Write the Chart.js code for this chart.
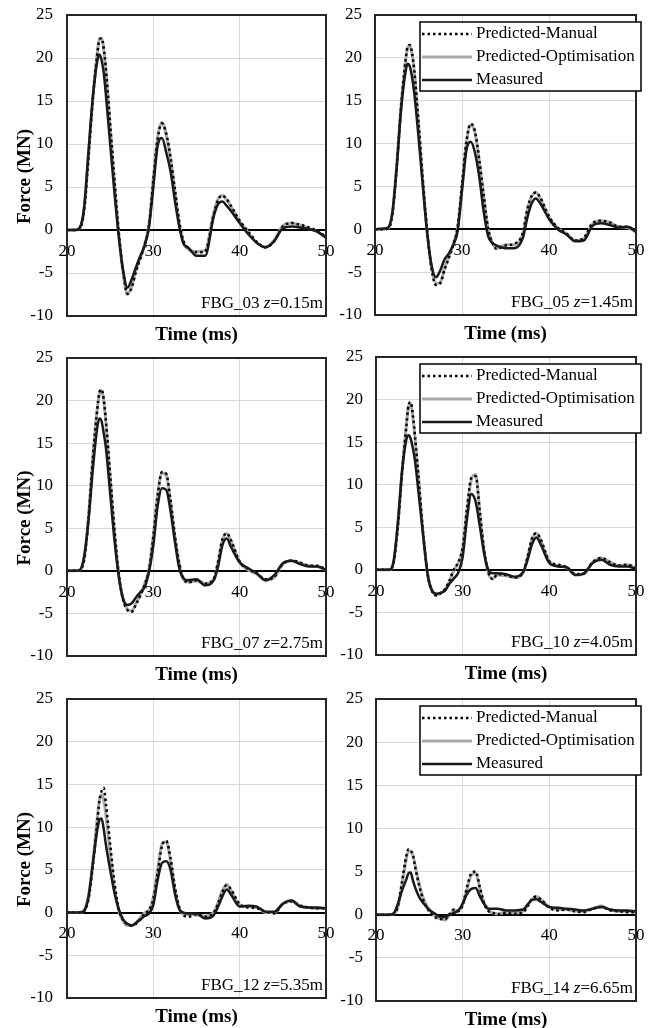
<!DOCTYPE html>
<html>
<head>
<meta charset="utf-8">
<style>
  html, body { margin: 0; padding: 0; background: #fff; }
  body { width: 649px; height: 1028px; position: relative; overflow: hidden; }
  canvas { position: absolute; }
</style>
</head>
<body>
<canvas id="fbg03" width="336" height="345" style="left:0;top:0"></canvas>
<canvas id="fbg05" width="329" height="345" style="left:320px;top:0"></canvas>
<canvas id="fbg07" width="336" height="345" style="left:0;top:340px"></canvas>
<canvas id="fbg10" width="329" height="345" style="left:320px;top:340px"></canvas>
<canvas id="fbg12" width="336" height="348" style="left:0;top:680px"></canvas>
<canvas id="fbg14" width="329" height="348" style="left:320px;top:680px"></canvas>

<script src="https://cdn.jsdelivr.net/npm/chart.js"></script>
<script>
  // time axis (ms), shared by every panel
  const times = [20, 21, 21.5, 22, 22.5, 23, 23.5, 23.75, 24, 24.25, 24.5, 25, 25.5, 26, 26.5, 27, 27.5, 28, 28.5, 29, 29.5, 30, 30.5, 31, 31.5, 32, 32.5, 33, 33.5, 34, 35, 36, 37, 37.5, 38, 38.5, 39, 40, 41, 42, 43, 44, 45, 46, 47, 48, 49, 50];
  const xTicks = [20, 30, 40, 50];
  const yTicks = [-10, -5, 0, 5, 10, 15, 20, 25];

  // force (MN)
  const fbg03Manual   = [0, 0, 0.2, 2.4, 8.6, 15.3, 20.4, 22.1, 22.3, 21.2, 18.8, 12.3, 5.8, -0.3, -4.8, -7.4, -6.7, -4.8, -3.3, -1.7, 0.5, 5.8, 10.6, 12.4, 11.2, 8.4, 4.7, 1.0, -1.3, -2.1, -2.6, -2.5, 1.8, 3.5, 4.0, 3.6, 2.8, 1.1, -0.2, -1.4, -2.0, -1.3, 0.4, 0.8, 0.6, 0.3, -0.1, -0.8];
  const fbg03Optim    = [0, 0, 0.2, 2.5, 8.8, 15.5, 20.5, 22.2, 22.3, 21.0, 18.6, 12.0, 5.5, -0.5, -5.0, -7.5, -6.5, -4.6, -3.2, -1.6, 0.6, 6.0, 10.8, 12.5, 11.0, 8.2, 4.5, 0.8, -1.5, -2.2, -2.5, -2.4, 2.0, 3.6, 4.0, 3.5, 2.7, 1.0, -0.3, -1.5, -2.0, -1.2, 0.5, 0.8, 0.6, 0.2, -0.2, -0.9];
  const fbg03Measured = [0, 0, 0.3, 2.8, 9.3, 15.5, 19.6, 20.4, 19.8, 18.3, 15.8, 10.0, 4.3, -0.8, -4.7, -6.7, -5.7, -4.3, -3.0, -1.8, 0.4, 5.0, 9.8, 10.7, 9.0, 6.8, 3.4, 0.4, -1.6, -2.0, -3.0, -3.0, 1.6, 3.0, 3.3, 2.8, 2.2, 0.8, -0.5, -1.5, -2.0, -1.3, 0.2, 0.4, 0.3, 0.1, -0.2, -0.9];

  const fbg05Manual   = [0, 0, 0.1, 1.7, 7.3, 14.3, 19.6, 21.3, 21.5, 20.6, 18.7, 12.5, 5.7, -0.2, -4.6, -6.5, -6.3, -4.7, -3.3, -1.8, 0.3, 5.2, 10.2, 12.3, 11.4, 8.0, 3.9, 0.1, -1.6, -2.3, -1.9, -1.7, -0.4, 2.3, 3.9, 4.3, 3.7, 1.5, 0.2, -0.5, -1.3, -1.0, 0.7, 1.0, 0.8, 0.3, 0.3, -0.2];
  const fbg05Optim    = [0, 0, 0.1, 1.8, 7.5, 14.5, 19.5, 21.2, 21.4, 20.5, 18.5, 12.3, 5.5, -0.3, -4.5, -6.3, -6.2, -4.5, -3.2, -1.7, 0.2, 5.0, 10.0, 12.2, 11.2, 7.8, 3.8, 0.0, -1.6, -2.2, -1.8, -1.8, -0.5, 2.2, 3.8, 4.3, 3.6, 1.4, 0.1, -0.5, -1.3, -1.1, 0.6, 1.0, 0.8, 0.3, 0.2, -0.3];
  const fbg05Measured = [0, 0.1, 0.2, 2.0, 7.3, 14.0, 18.3, 19.3, 19.0, 17.8, 16.0, 10.8, 5.0, -0.5, -4.2, -5.6, -4.8, -3.5, -2.8, -1.8, -0.2, 4.5, 9.2, 10.2, 8.9, 6.0, 2.0, -0.8, -1.6, -1.9, -2.2, -2.2, -1.0, 1.3, 3.0, 3.6, 3.0, 1.2, 0.0, -0.6, -1.4, -1.3, 0.4, 0.7, 0.5, 0.2, 0.3, -0.3];

  const fbg07Manual   = [0, 0, 0.1, 1.4, 6.3, 13.3, 18.9, 20.9, 21.3, 20.2, 17.7, 11.3, 4.8, -0.4, -3.4, -4.6, -4.8, -3.9, -2.9, -1.6, 0.1, 4.0, 8.8, 11.6, 11.4, 8.2, 4.1, 0.9, -0.9, -1.4, -1.1, -1.5, -0.9, 1.1, 3.7, 4.4, 3.6, 1.1, 0.2, -0.3, -1.0, -0.7, 0.8, 1.2, 1.0, 0.6, 0.6, 0.2];
  const fbg07Optim    = [0, 0, 0.1, 1.5, 6.5, 13.5, 19.0, 20.8, 21.2, 20.0, 17.5, 11.0, 4.6, -0.5, -3.3, -4.5, -4.7, -3.8, -2.8, -1.5, 0.2, 4.2, 9.0, 11.5, 11.2, 8.0, 4.0, 0.8, -1.0, -1.3, -1.2, -1.5, -1.0, 1.0, 3.6, 4.4, 3.5, 1.0, 0.1, -0.4, -1.1, -0.8, 0.8, 1.2, 0.9, 0.6, 0.5, 0.1];
  const fbg07Measured = [0, 0, 0.1, 1.8, 6.0, 12.0, 16.8, 17.9, 17.6, 16.2, 14.5, 9.1, 3.6, -0.7, -3.3, -4.0, -3.8, -3.1, -2.5, -1.9, -0.1, 3.0, 7.6, 9.7, 9.5, 7.0, 3.4, 0.3, -0.9, -1.1, -1.0, -1.7, -1.1, 0.5, 3.0, 3.8, 2.8, 1.0, 0.3, -0.3, -1.1, -0.5, 0.9, 1.2, 0.8, 0.5, 0.5, 0.1];

  const fbg10Manual   = [0, 0, 0, 0.7, 4.8, 11.3, 16.8, 19.3, 19.7, 18.2, 15.7, 9.7, 3.6, -0.7, -2.6, -3.0, -2.7, -2.2, -1.2, 0.1, 0.9, 2.6, 7.2, 10.8, 11.0, 6.6, 2.1, -0.4, -1.1, -0.5, -0.6, -0.9, -0.2, 1.6, 3.7, 4.3, 3.6, 1.0, 0.6, 0.3, -0.5, -0.4, 0.9, 1.4, 0.9, 0.5, 0.6, 0.2];
  const fbg10Optim    = [0, 0, 0, 0.8, 5.0, 11.5, 17.0, 19.2, 19.5, 18.0, 15.5, 9.5, 3.5, -0.8, -2.5, -2.9, -2.7, -2.3, -1.3, 0.0, 0.8, 2.5, 7.0, 10.6, 11.2, 6.5, 2.0, -0.5, -1.0, -0.6, -0.7, -0.9, -0.3, 1.5, 3.6, 4.3, 3.5, 1.0, 0.5, 0.3, -0.6, -0.5, 0.9, 1.4, 0.9, 0.5, 0.6, 0.2];
  const fbg10Measured = [0, 0, 0, 0.8, 5.3, 11.5, 15.3, 15.8, 15.4, 14.3, 12.8, 8.2, 3.5, -0.8, -2.5, -2.8, -2.7, -2.4, -1.6, -1.0, -0.3, 1.5, 6.0, 8.9, 8.0, 5.0, 1.8, -0.1, -0.4, -0.4, -0.5, -0.8, -0.2, 1.2, 3.0, 3.8, 3.0, 0.8, 0.4, 0.3, -0.6, -0.4, 0.8, 1.2, 0.6, 0.4, 0.4, 0.1];

  const fbg12Manual   = [0, 0, 0, 0.2, 1.6, 5.5, 10.5, 13.0, 14.2, 14.6, 12.8, 8.0, 3.5, 0.4, -0.9, -1.4, -1.5, -1.3, -0.8, -0.1, 0.3, 1.6, 4.6, 7.8, 8.4, 6.3, 3.0, 0.6, -0.3, -0.5, -0.2, -0.5, 0.0, 1.0, 2.4, 3.2, 2.7, 1.0, 0.6, 0.5, 0.1, -0.1, 1.0, 1.3, 0.8, 0.6, 0.5, 0.5];
  const fbg12Optim    = [0, 0, 0, 0.3, 2.0, 6.0, 11.0, 13.2, 13.8, 13.2, 11.5, 7.0, 2.8, 0.2, -1.0, -1.5, -1.5, -1.2, -0.6, 0.0, 0.3, 1.8, 5.0, 8.0, 8.3, 6.0, 2.8, 0.5, -0.2, -0.2, -0.3, -0.4, 0.0, 1.2, 2.6, 3.3, 2.6, 0.9, 0.7, 0.6, 0.0, 0.0, 1.1, 1.4, 0.8, 0.6, 0.5, 0.5];
  const fbg12Measured = [0, 0, 0, 0.2, 1.9, 5.8, 9.6, 10.8, 11.0, 9.8, 8.0, 5.0, 2.3, 0.4, -0.8, -1.3, -1.5, -1.2, -0.8, -0.4, -0.1, 0.9, 3.8, 5.8, 6.0, 5.0, 2.2, 0.4, 0.0, -0.1, -0.1, -0.7, -0.3, 0.7, 1.9, 2.7, 2.1, 0.7, 0.8, 0.7, 0.1, 0.1, 1.0, 1.4, 0.7, 0.6, 0.6, 0.5];

  const fbg14Manual   = [0, 0, 0, 0.1, 0.9, 3.8, 6.8, 7.6, 7.4, 7.0, 5.6, 3.3, 1.6, 0.6, 0.0, -0.4, -0.5, -0.5, 0.1, 0.6, 0.4, 1.1, 3.2, 4.8, 5.0, 3.1, 1.2, 0.4, 0.2, 0.0, 0.2, 0.1, 0.3, 1.0, 1.8, 2.1, 1.8, 0.8, 0.5, 0.6, 0.4, 0.3, 0.7, 0.9, 0.5, 0.4, 0.3, 0.3];
  const fbg14Optim    = [0, 0, 0, 0.1, 0.8, 3.5, 6.5, 7.4, 7.3, 6.9, 5.8, 3.5, 1.8, 0.8, 0.1, -0.3, -0.5, -0.6, 0.0, 0.5, 0.5, 1.2, 3.0, 4.6, 4.8, 3.0, 1.3, 0.5, 0.2, 0.1, 0.3, 0.2, 0.4, 1.1, 1.8, 2.1, 1.8, 0.9, 0.6, 0.6, 0.4, 0.4, 0.7, 1.0, 0.6, 0.4, 0.4, 0.3];
  const fbg14Measured = [0, 0, 0, 0.1, 1.2, 2.8, 4.1, 4.8, 4.9, 4.0, 3.2, 2.0, 1.3, 0.7, 0.3, 0.0, -0.3, -0.2, 0.0, 0.2, 0.5, 1.3, 2.4, 3.0, 3.1, 2.1, 1.2, 0.7, 0.7, 0.7, 0.5, 0.5, 0.6, 1.2, 1.7, 1.8, 1.5, 0.9, 0.8, 0.7, 0.6, 0.5, 0.7, 0.9, 0.6, 0.5, 0.5, 0.4];

  const seriesLabels = ['Predicted-Manual', 'Predicted-Optimisation', 'Measured'];

  const serif = "'Liberation Serif', 'Times New Roman', serif";

  // frame, axis titles, sensor tag and boxed legend
  const panelDecor = {
    id: 'panelDecor',
    afterDraw(chart, args, opts) {
      const ctx = chart.ctx;
      const a = chart.chartArea;
      ctx.save();
      ctx.strokeStyle = '#262626';
      ctx.lineWidth = 2;
      ctx.strokeRect(a.left, a.top, a.right - a.left, a.bottom - a.top);

      ctx.fillStyle = '#000';
      ctx.font = 'bold 19px ' + serif;
      ctx.textAlign = 'center';
      ctx.textBaseline = 'middle';
      ctx.fillText('Time (ms)', (a.left + a.right) / 2, a.bottom + 19);

      if (opts.yTitle) {
        ctx.save();
        ctx.translate(25, (a.top + a.bottom) / 2 + 11);
        ctx.rotate(-Math.PI / 2);
        ctx.fillText('Force (MN)', 0, 0);
        ctx.restore();
      }

      // "FBG_xx z=..m" with italic z
      const parts = [[opts.tag + ' ', ''], ['z', 'italic '], ['=' + opts.depth, '']];
      ctx.textAlign = 'left';
      ctx.textBaseline = 'alphabetic';
      let w = 0;
      parts.forEach(p => { ctx.font = p[1] + '17px ' + serif; w += ctx.measureText(p[0]).width; });
      let x = a.right - 3 - w;
      parts.forEach(p => {
        ctx.font = p[1] + '17px ' + serif;
        ctx.fillText(p[0], x, a.bottom - 8);
        x += ctx.measureText(p[0]).width;
      });

      if (opts.legend) {
        const bx = a.right - 216, by = a.top + 7, bw = 221, bh = 69;
        ctx.fillStyle = '#fff';
        ctx.fillRect(bx, by, bw, bh);
        ctx.strokeStyle = '#000';
        ctx.lineWidth = 1.5;
        ctx.strokeRect(bx, by, bw, bh);
        ctx.font = '17px ' + serif;
        ctx.textBaseline = 'middle';
        chart.data.datasets.forEach((ds, i) => {
          const y = by + 12 + i * 23;
          ctx.beginPath();
          ctx.setLineDash(ds.borderDash || []);
          ctx.strokeStyle = ds.borderColor;
          ctx.lineWidth = ds.borderWidth;
          ctx.moveTo(bx + 2, y);
          ctx.lineTo(bx + 52, y);
          ctx.stroke();
          ctx.setLineDash([]);
          ctx.fillStyle = '#000';
          ctx.fillText(ds.label, bx + 56, y);
        });
      }
      ctx.restore();
    }
  };

  function toPoints(values) {
    return values.map((v, i) => ({ x: times[i], y: v }));
  }

  // tick labels must not push the plot area in
  function noScalePadding(s) {
    s.paddingTop = 0;
    s.paddingBottom = 0;
    s.paddingLeft = 0;
    s.paddingRight = 0;
  }

  function makeChart(id, tag, depth, manual, optim, measured, opt) {
    new Chart(document.getElementById(id), {
      type: 'line',
      data: {
        datasets: [
          { label: seriesLabels[0], data: toPoints(manual), borderColor: '#000', borderWidth: 2.5, borderDash: [2.5, 3], order: 1 },
          { label: seriesLabels[1], data: toPoints(optim), borderColor: '#a8a8a8', borderWidth: 3, order: 2 },
          { label: seriesLabels[2], data: toPoints(measured), borderColor: '#1a1a1a', borderWidth: 2.5, order: 0 }
        ]
      },
      options: {
        responsive: false,
        animation: false,
        devicePixelRatio: 1,
        elements: {
          point: { radius: 0 },
          line: { cubicInterpolationMode: 'monotone', fill: false }
        },
        layout: { autoPadding: false, padding: opt.pad },
        plugins: {
          legend: { display: false },
          tooltip: { enabled: false },
          panelDecor: { tag: tag, depth: depth, legend: opt.legend, yTitle: opt.yTitle }
        },
        scales: {
          x: {
            type: 'linear',
            min: xTicks[0],
            max: xTicks[xTicks.length - 1],
            position: { y: 0 },
            afterBuildTicks: s => { s.ticks = xTicks.map(v => ({ value: v })); },
            afterFit: noScalePadding,
            ticks: { padding: 11, color: '#000', font: { family: serif, size: 17 } },
            grid: { color: '#d9d9d9', lineWidth: 1, drawTicks: false },
            border: { display: true, color: '#000', width: 2 }
          },
          y: {
            type: 'linear',
            min: yTicks[0],
            max: yTicks[yTicks.length - 1],
            afterBuildTicks: s => { s.ticks = yTicks.map(v => ({ value: v })); },
            afterFit: s => { s.width = opt.yWidth; noScalePadding(s); },
            ticks: { padding: opt.yPad, color: '#000', font: { family: serif, size: 17 } },
            grid: { color: '#d9d9d9', lineWidth: 1, drawTicks: false },
            border: { display: false }
          }
        }
      },
      plugins: [panelDecor]
    });
  }

  makeChart('fbg03', 'FBG_03', '0.15m', fbg03Manual, fbg03Optim, fbg03Measured,
    { legend: false, yTitle: true, yWidth: 67, yPad: 14, pad: { left: 0, right: 10, top: 15, bottom: 29 } });
  makeChart('fbg05', 'FBG_05', '1.45m', fbg05Manual, fbg05Optim, fbg05Measured,
    { legend: true, yTitle: false, yWidth: 55, yPad: 13, pad: { left: 0, right: 13, top: 15, bottom: 30 } });
  makeChart('fbg07', 'FBG_07', '2.75m', fbg07Manual, fbg07Optim, fbg07Measured,
    { legend: false, yTitle: true, yWidth: 67, yPad: 14, pad: { left: 0, right: 10, top: 18, bottom: 29 } });
  makeChart('fbg10', 'FBG_10', '4.05m', fbg10Manual, fbg10Optim, fbg10Measured,
    { legend: true, yTitle: false, yWidth: 56, yPad: 13, pad: { left: 0, right: 13, top: 17, bottom: 30 } });
  makeChart('fbg12', 'FBG_12', '5.35m', fbg12Manual, fbg12Optim, fbg12Measured,
    { legend: false, yTitle: true, yWidth: 67, yPad: 14, pad: { left: 0, right: 10, top: 19, bottom: 30 } });
  makeChart('fbg14', 'FBG_14', '6.65m', fbg14Manual, fbg14Optim, fbg14Measured,
    { legend: true, yTitle: false, yWidth: 56, yPad: 13, pad: { left: 0, right: 13, top: 19, bottom: 27 } });
</script>
</body>
</html>
